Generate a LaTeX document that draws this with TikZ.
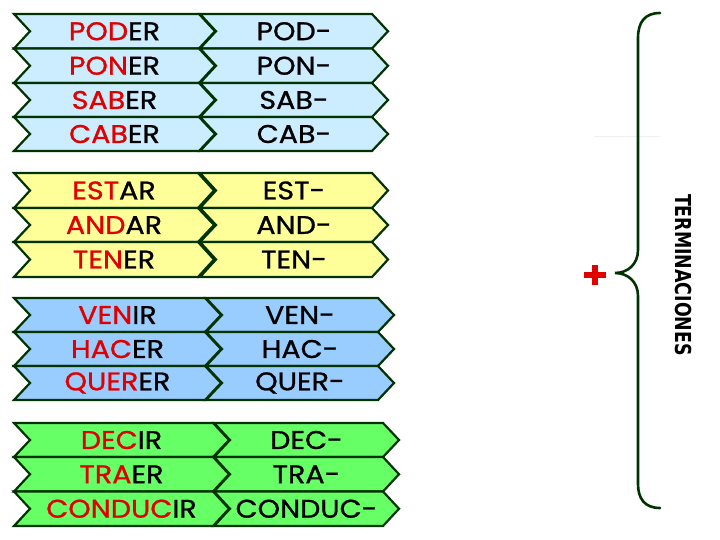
\documentclass[tikz,border=0pt]{standalone}
\usepackage{fontspec}
\setmainfont{Poppins}[FakeStretch=1.12,FakeBold=1]
\newfontfamily\labfont{DejaVu Sans}
\definecolor{edgegreen}{HTML}{003300}
\definecolor{gA}{HTML}{CCECFF}
\definecolor{gB}{HTML}{FFFF99}
\definecolor{gC}{HTML}{99CCFF}
\definecolor{gD}{HTML}{66FF66}
\definecolor{stemred}{HTML}{E00000}
\newcommand{\chevrow}[7]{%
  \path[chevpath,fill=#6] (#2,#4) -- (#3,#4) -- ({#3+16},{(#4+#5)/2}) -- (#3,#5) -- (#2,#5) -- ({#2+16},{(#4+#5)/2}) -- cycle;
  \node[wordtext] (#1) at ({(#2+16+#3)/2},{(#4+#5)/2}) {#7};}
\begin{document}
\begin{tikzpicture}[x=1pt,y=-1pt,
  chevpath/.style={draw=edgegreen,line width=2.2pt,line join=miter},
  wordtext/.style={font=\fontsize{25.5}{27}\selectfont,inner sep=0pt,text=black},
  bracepath/.style={draw=edgegreen,line width=2.6pt,line cap=round}]
\useasboundingbox[fill=white] (0,0) rectangle (720,540);
% group 1
\chevrow{a1l}{14}{199}{14}{48.5}{gA}{\textcolor{stemred}{POD}ER}
\chevrow{a1r}{200}{372}{14}{48.5}{gA}{POD-}
\chevrow{a2l}{14}{199}{48.5}{83}{gA}{\textcolor{stemred}{PON}ER}
\chevrow{a2r}{200}{372}{48.5}{83}{gA}{PON-}
\chevrow{a3l}{14}{199}{83}{117}{gA}{\textcolor{stemred}{SAB}ER}
\chevrow{a3r}{200}{372}{83}{117}{gA}{SAB-}
\chevrow{a4l}{14}{199}{117}{151}{gA}{\textcolor{stemred}{CAB}ER}
\chevrow{a4r}{200}{372}{117}{151}{gA}{CAB-}
% group 2
\chevrow{b1l}{14}{198}{173}{208}{gB}{\textcolor{stemred}{EST}AR}
\chevrow{b1r}{200}{372}{173}{208}{gB}{EST-}
\chevrow{b2l}{14}{198}{208}{242}{gB}{\textcolor{stemred}{AND}AR}
\chevrow{b2r}{200}{372}{208}{242}{gB}{AND-}
\chevrow{b3l}{14}{198}{242}{277}{gB}{\textcolor{stemred}{TEN}ER}
\chevrow{b3r}{200}{372}{242}{277}{gB}{TEN-}
% group 3
\chevrow{c1l}{14}{205}{298}{332}{gC}{\textcolor{stemred}{VEN}IR}
\chevrow{c1r}{206}{378}{298}{332}{gC}{VEN-}
\chevrow{c2l}{14}{205}{332}{366}{gC}{\textcolor{stemred}{HAC}ER}
\chevrow{c2r}{206}{378}{332}{366}{gC}{HAC-}
\chevrow{c3l}{14}{205}{366}{400}{gC}{\textcolor{stemred}{QUER}ER}
\chevrow{c3r}{206}{378}{366}{400}{gC}{QUER-}
% group 4
\chevrow{d1l}{14}{213}{423}{457}{gD}{\textcolor{stemred}{DEC}IR}
\chevrow{d1r}{214}{383}{423}{457}{gD}{DEC-}
\chevrow{d2l}{14}{213}{457}{491.5}{gD}{\textcolor{stemred}{TRA}ER}
\chevrow{d2r}{214}{383}{457}{491.5}{gD}{TRA-}
\chevrow{d3l}{14}{213}{491.5}{526}{gD}{\textcolor{stemred}{CONDUC}IR}
\chevrow{d3r}{214}{383}{491.5}{526}{gD}{CONDUC-}
% faint line
\draw[gray!12,line width=1pt] (594,137) -- (660,137);
% brace
\coordinate (btop) at (660,13);
\coordinate (btip) at (615,273);
\coordinate (bbot) at (660,508);
\path[bracepath] (btop) .. controls (645,13) and (638,22) .. (638,38) -- (638,250)
  .. controls (638,264) and (628,273) .. (btip)
  .. controls (628,273) and (638,282) .. (638,296) -- (638,484)
  .. controls (638,499) and (645,508) .. (bbot);
% plus
\node[inner sep=0pt,minimum size=22pt] (plus) at (595,275) {};
\draw[stemred,line width=5.5pt] (plus.west) -- (plus.east);
\draw[stemred,line width=5.5pt] ([yshift=-1pt]plus.north) -- ([yshift=1pt]plus.south);
% label
\node[rotate=-90,inner sep=0pt] (term) at (683,275) {\labfont\bfseries\scalebox{0.79}[1]{\fontsize{22}{24}\selectfont TERMINACIONES}};
\end{tikzpicture}
\end{document}
